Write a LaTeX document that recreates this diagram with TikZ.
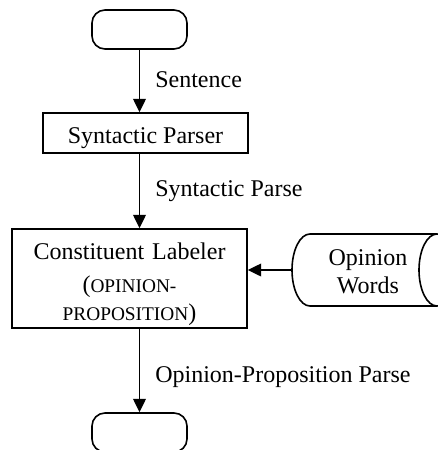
\documentclass[tikz,border=0pt]{standalone}
\usepackage{fontspec}
\setmainfont{Liberation Serif}
\usepackage{tikz}
\usetikzlibrary{arrows.meta}

\newcommand{\capsfont}{\fontsize{14.5}{18.75}\selectfont}
\newcommand{\fullparen}[1]{{\fontsize{18}{18.75}\selectfont#1}}

\tikzset{
  every node/.style={font=\fontsize{18}{21}\selectfont},
  outline/.style={draw, line width=1.2pt, inner sep=0pt},
  terminal/.style={outline, rounded corners=9.75pt, minimum width=71.25pt, minimum height=29.25pt},
  flow/.style={line width=1.2pt, -{Triangle[length=10pt,width=9.5pt]}},
  flowlabel/.style={anchor=base west, inner sep=0pt}
}

\begin{document}
\begin{tikzpicture}[x=0.75pt,y=0.75pt,yscale=-1,xscale=1]
                \useasboundingbox (0,0) rectangle (437,450);

                %Terminal: start
                \node [terminal] (start) at (139.5,29.5) {};
                %Process: parser
                \node [outline, minimum width=153.75pt, text height=22.5pt, text depth=7.5pt] (parser) at (145.5,133) {Syntactic Parser};
                %Process: labeler
                \node [outline, text width=176.25pt, align=center, text height=22.5pt, text depth=51.75pt] (labeler) at (129.5,278.5)
                    {Constituent Labeler\\[6pt]\capsfont\fullparen{(}OPINION-\\PROPOSITION\fullparen{)}};
                %Terminal: stop
                \node [terminal] (stop) at (139.5,432.5) {};

                %Stored data: opinion words
                \draw [line width=1.2pt] (437,234) -- (310,234) arc [start angle=270, end angle=90, x radius=18, y radius=36] -- (437,306) ;
                \draw [line width=1.2pt] (437,270) ellipse [x radius=18, y radius=36] ;
                \coordinate (wordsin) at (292,270);
                \node [text width=90pt, align=center, anchor=base, inner sep=0pt] (words) at (368,265) {Opinion\\Words};

                %Straight Lines
                \draw [flow] (start.south) -- (start.south |- parser.north) ;
                \draw [flow] (parser.south -| start.south) -- (labeler.north -| start.south) ;
                \draw [flow] (labeler.south -| stop.north) -- (stop.north) ;
                \draw [flow] (wordsin) -- (wordsin -| labeler.east) ;

                % Text Node
                \node [flowlabel] (sentence) at (155,87) {Sentence};
                % Text Node
                \node [flowlabel] (synparse) at (155,196) {Syntactic Parse};
                % Text Node
                \node [flowlabel] (opparse) at (155,382) {Opinion-Proposition Parse};

\end{tikzpicture}
\end{document}
